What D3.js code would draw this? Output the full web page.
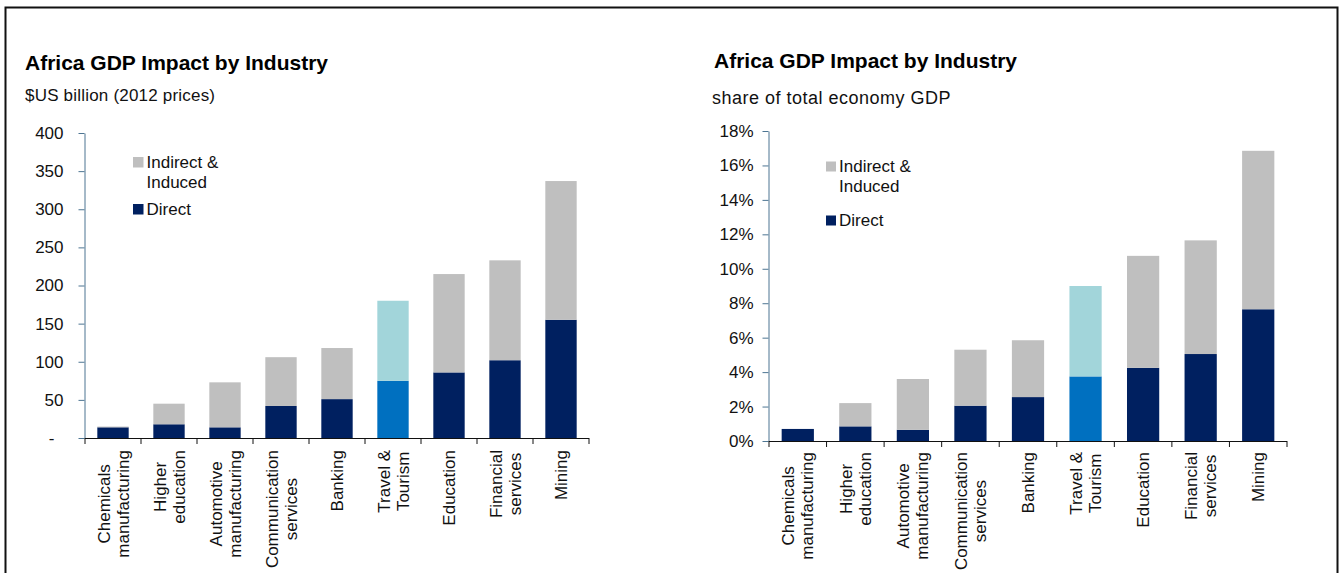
<!DOCTYPE html>
<html>
<head>
<meta charset="utf-8">
<script src="https://cdn.jsdelivr.net/npm/d3@7"></script>
<style>
  body { margin: 0; background: #fff; }
  svg { display: block; }
  text { font-family: "Liberation Sans", Arial, sans-serif; fill: #111; }
</style>
</head>
<body>
<svg id="chart" width="1340" height="573"></svg>
<script>
// Industries, in the order shown (line breaks mark wrapped labels)
const categories = [
  "Chemicals\nmanufacturing", "Higher\neducation", "Automotive\nmanufacturing",
  "Communication\nservices", "Banking", "Travel &\nTourism", "Education",
  "Financial\nservices", "Mining"
];
const highlighted = "Travel &\nTourism";

// GDP impact, $US billion (2012 prices)
const gdpDirect = [14, 18, 14, 42, 51, 75, 86, 102, 155];
const gdpTotal  = [15, 45, 73, 106, 118, 180, 215, 233, 337];

// Share of total economy GDP, %
const shareDirect = [0.70, 0.85, 0.65, 2.05, 2.55, 3.75, 4.25, 5.05, 7.65];
const shareTotal  = [0.70, 2.20, 3.60, 5.30, 5.85, 9.00, 10.75, 11.65, 16.85];

const gdpTicks   = [0, 50, 100, 150, 200, 250, 300, 350, 400];
const shareTicks = [0, 2, 4, 6, 8, 10, 12, 14, 16, 18];

const seriesNames = ["Indirect &\nInduced", "Direct"];
const titleText = "Africa GDP Impact by Industry";

const colors = {
  direct: "#002060", indirect: "#BFBFBF",
  hiDirect: "#0070C0", hiIndirect: "#A2D5DA",
  yAxis: "#4d7592", xAxis: "#111"
};

const svg = d3.select("#chart");

// outer frame
svg.append("rect")
  .attr("x", 5.5).attr("y", 7.5)
  .attr("width", 1332).attr("height", 620)
  .attr("fill", "none").attr("stroke", "#111").attr("stroke-width", 2);

function drawPanel(cfg) {
  const g = svg.append("g");

  g.append("text").attr("x", cfg.titleX).attr("y", cfg.titleY)
    .attr("font-size", 21).attr("font-weight", "bold").style("fill", "#000")
    .text(titleText);
  g.append("text").attr("x", cfg.subX).attr("y", cfg.subY)
    .attr("font-size", cfg.subSize).attr("letter-spacing", cfg.subSpacing)
    .text(cfg.subtitle);

  const x = d3.scaleBand().domain(categories)
    .range([cfg.x0, cfg.x1]).paddingInner(cfg.pad).paddingOuter(cfg.pad / 2);
  const y = d3.scaleLinear().domain([0, cfg.max]).range([cfg.yBottom, cfg.yTop]);

  const rows = categories.map((c, i) => ({
    cat: c, direct: cfg.direct[i], indirect: cfg.total[i] - cfg.direct[i]
  }));
  const stacked = d3.stack().keys(["direct", "indirect"])(rows);

  stacked.forEach(layer => {
    g.append("g").selectAll("rect").data(layer).join("rect")
      .attr("x", d => x(d.data.cat))
      .attr("width", x.bandwidth())
      .attr("y", d => y(d[1]))
      .attr("height", d => y(d[0]) - y(d[1]))
      .attr("fill", d => {
        const hi = d.data.cat === highlighted;
        if (layer.key === "direct") return hi ? colors.hiDirect : colors.direct;
        return hi ? colors.hiIndirect : colors.indirect;
      });
  });

  // y axis
  const yAxis = g.append("g").attr("transform", `translate(${cfg.x0 - 0.5},0)`)
    .call(d3.axisLeft(y).tickValues(cfg.ticks).tickFormat(cfg.fmt)
      .tickSize(6).tickSizeOuter(0).tickPadding(cfg.tickPad));
  yAxis.select(".domain").attr("stroke", colors.yAxis);
  yAxis.selectAll(".tick line").attr("stroke", colors.yAxis);
  yAxis.selectAll(".tick text").attr("font-size", 17).style("fill", "#111")
    .attr("font-family", null)
    .attr("dx", d => (d === 0 && cfg.zeroShift) ? cfg.zeroShift : 0);

  // x axis with ticks on category boundaries
  const xb = d3.scaleLinear().domain([0, categories.length]).range([cfg.x0, cfg.x1]);
  const xAxis = g.append("g").attr("transform", `translate(-0.5,${cfg.yBottom})`)
    .call(d3.axisBottom(xb).tickValues(d3.range(categories.length + 1))
      .tickFormat("").tickSize(6).tickSizeOuter(0));
  xAxis.select(".domain").attr("stroke", colors.xAxis);
  xAxis.selectAll(".tick line").attr("stroke", colors.xAxis);

  // rotated category labels
  const lh = 19;
  categories.forEach(c => {
    const lines = c.split("\n");
    const lg = g.append("g")
      .attr("transform", `translate(${x(c) + x.bandwidth() / 2},${cfg.yBottom + cfg.labelGap}) rotate(-90)`);
    const texts = lines.map((ln, i) =>
      lg.append("text").attr("font-size", 17).attr("text-anchor", "middle")
        .attr("y", (i - (lines.length - 1) / 2) * lh + 6).text(ln));
    const maxW = d3.max(texts, t => t.node().getComputedTextLength());
    texts.forEach(t => t.attr("x", -maxW / 2));
  });

  // legend
  const lgItems = [
    { name: seriesNames[0], color: colors.indirect, dy: 0 },
    { name: seriesNames[1], color: colors.direct, dy: cfg.legGap }
  ];
  lgItems.forEach(it => {
    g.append("rect").attr("x", cfg.legX).attr("y", cfg.legY + it.dy)
      .attr("width", cfg.legSize).attr("height", cfg.legSize).attr("fill", it.color);
    it.name.split("\n").forEach((ln, i) => {
      g.append("text").attr("x", cfg.legX + cfg.legSize + 3)
        .attr("y", cfg.legY + it.dy + cfg.legSize + i * 20.5)
        .attr("font-size", 17).text(ln);
    });
  });
}

drawPanel({
  titleX: 25, titleY: 70, subX: 25, subY: 101, subtitle: "$US billion (2012 prices)",
  subSize: 17, subSpacing: 0.2,
  x0: 85, x1: 589, yTop: 133, yBottom: 438, pad: 0.44,
  max: 400, ticks: gdpTicks, fmt: d => d === 0 ? "-" : d3.format("d")(d),
  tickPad: 15, zeroShift: -9,
  direct: gdpDirect, total: gdpTotal, labelGap: 12,
  legX: 133, legY: 157, legSize: 10.5, legGap: 47
});

drawPanel({
  titleX: 714, titleY: 68, subX: 712, subY: 104, subtitle: "share of total economy GDP",
  subSize: 18, subSpacing: 0.5,
  x0: 769, x1: 1287, yTop: 131, yBottom: 441, pad: 0.44,
  max: 18, ticks: shareTicks, fmt: d => d + "%",
  tickPad: 9, zeroShift: 0,
  direct: shareDirect, total: shareTotal, labelGap: 11,
  legX: 826, legY: 161.5, legSize: 10, legGap: 54
});
</script>
</body>
</html>
